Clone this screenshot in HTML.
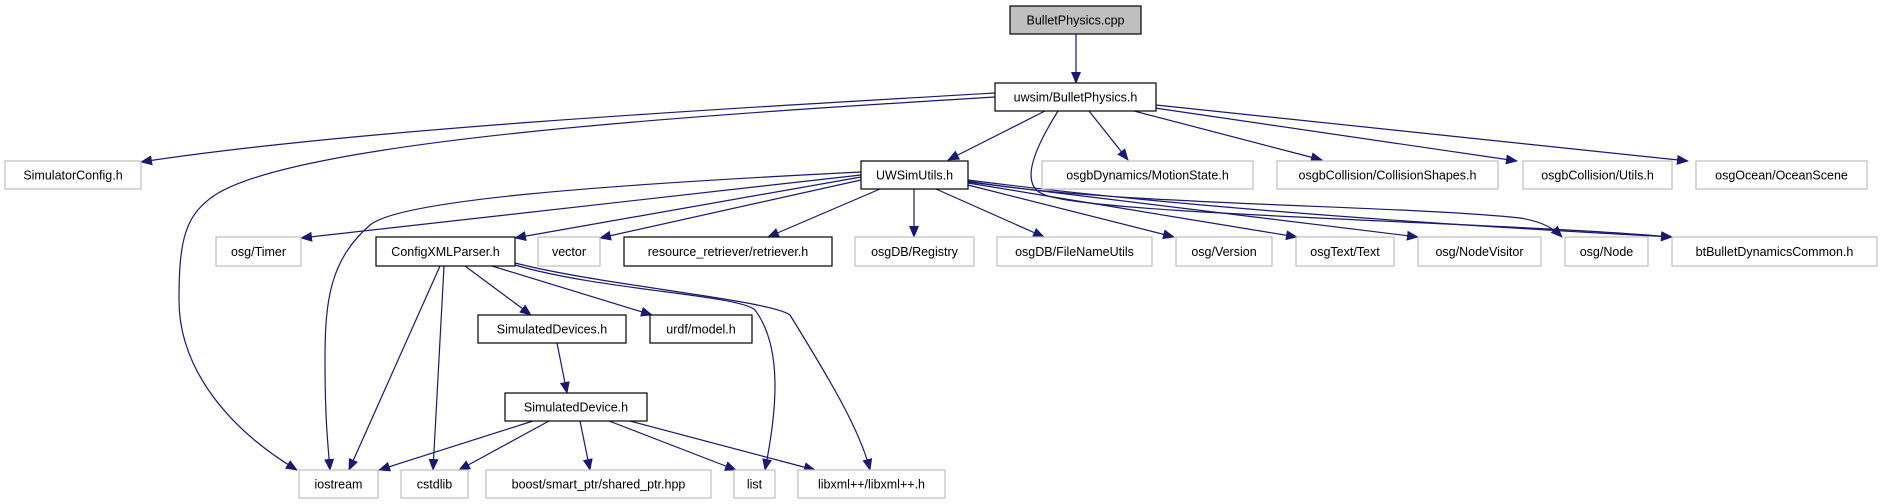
<!DOCTYPE html>
<html><head><meta charset="utf-8"><style>
body{margin:0;background:#fff;}
svg{display:block;}
text{font-family:"Liberation Sans","DejaVu Sans",sans-serif;font-size:12.5px;fill:#000;}
</style></head><body>
<svg width="1883" height="504" viewBox="0 0 1883 504" xmlns="http://www.w3.org/2000/svg">
<defs>
<marker id="a" markerWidth="12" markerHeight="10" refX="11" refY="5" orient="auto" markerUnits="userSpaceOnUse">
<path d="M0,0 L12,5 L0,10 Z" fill="#191970"/>
</marker>
</defs>
<g fill="none" stroke="#191970" stroke-width="1.2" marker-end="url(#a)">
<path d="M1076,34 L1076,83"/>
<path d="M995,93 C700,110 350,130 141,162"/>
<path d="M995,97 C700,115 300,140 215,195 C185,215 179,240 179,300 C179,370 230,430 297,470"/>
<path d="M1045,111 L948,160"/>
<path d="M1089,111 L1128,160"/>
<path d="M1134,111 L1322,160"/>
<path d="M1148,107 L1517,161"/>
<path d="M1156,105 L1688,161"/>
<path d="M1058,111 C1040,140 1015,185 1045,195 C1100,215 1500,222 1672,237"/>
<path d="M861,172 C600,185 400,200 370,225 C330,260 325,300 325,360 C325,420 328,445 330,470"/>
<path d="M861,175 L301,238"/>
<path d="M861,177 L515,238"/>
<path d="M861,180 L600,238"/>
<path d="M880,189 L768,237"/>
<path d="M914,189 L914,237"/>
<path d="M936,189 L1044,237"/>
<path d="M968,185 L1174,237"/>
<path d="M968,183 L1297,237"/>
<path d="M968,182 L1418,237"/>
<path d="M968,181 C1100,205 1400,205 1520,218 C1545,222 1555,230 1562,237"/>
<path d="M968,180 C1200,210 1500,228 1672,237"/>
<path d="M440,266 L349,470"/>
<path d="M444,266 L433,470"/>
<path d="M465,266 L531,315"/>
<path d="M492,266 L652,315"/>
<path d="M515,265 C600,290 740,295 755,310 C785,350 775,420 765,470"/>
<path d="M515,263 C600,285 770,300 790,315 C830,380 860,430 870,470"/>
<path d="M557,343 L567,393"/>
<path d="M533,421 L379,470"/>
<path d="M549,421 L459,470"/>
<path d="M580,421 L590,470"/>
<path d="M609,421 L736,470"/>
<path d="M630,421 L815,470"/>
</g>
<g stroke-width="1.2">
<rect x="1010" y="6" width="131" height="28" fill="#bfbfbf" stroke="#000"/>
<rect x="995" y="83" width="161" height="28" fill="#fff" stroke="#000"/>
<rect x="861" y="161" width="107" height="28" fill="#fff" stroke="#000"/>
<rect x="5" y="161" width="136" height="28" fill="#fff" stroke="#bfbfbf"/>
<rect x="1042" y="161" width="211" height="28" fill="#fff" stroke="#bfbfbf"/>
<rect x="1277" y="161" width="221" height="28" fill="#fff" stroke="#bfbfbf"/>
<rect x="1523" y="161" width="149" height="28" fill="#fff" stroke="#bfbfbf"/>
<rect x="1696" y="161" width="171" height="28" fill="#fff" stroke="#bfbfbf"/>
<rect x="216" y="237" width="85" height="29" fill="#fff" stroke="#bfbfbf"/>
<rect x="376" y="237" width="139" height="29" fill="#fff" stroke="#000"/>
<rect x="538" y="237" width="62" height="29" fill="#fff" stroke="#bfbfbf"/>
<rect x="624" y="237" width="208" height="29" fill="#fff" stroke="#000"/>
<rect x="855" y="237" width="119" height="29" fill="#fff" stroke="#bfbfbf"/>
<rect x="997" y="237" width="155" height="29" fill="#fff" stroke="#bfbfbf"/>
<rect x="1176" y="237" width="96" height="29" fill="#fff" stroke="#bfbfbf"/>
<rect x="1296" y="237" width="98" height="29" fill="#fff" stroke="#bfbfbf"/>
<rect x="1418" y="237" width="123" height="29" fill="#fff" stroke="#bfbfbf"/>
<rect x="1565" y="237" width="83" height="29" fill="#fff" stroke="#bfbfbf"/>
<rect x="1672" y="237" width="205" height="29" fill="#fff" stroke="#bfbfbf"/>
<rect x="478" y="315" width="148" height="28" fill="#fff" stroke="#000"/>
<rect x="650" y="315" width="102" height="28" fill="#fff" stroke="#000"/>
<rect x="505" y="393" width="142" height="28" fill="#fff" stroke="#000"/>
<rect x="299" y="470" width="79" height="28" fill="#fff" stroke="#bfbfbf"/>
<rect x="401" y="470" width="67" height="28" fill="#fff" stroke="#bfbfbf"/>
<rect x="486" y="470" width="225" height="28" fill="#fff" stroke="#bfbfbf"/>
<rect x="734" y="470" width="41" height="28" fill="#fff" stroke="#bfbfbf"/>
<rect x="798" y="470" width="147" height="28" fill="#fff" stroke="#bfbfbf"/>
</g>
<g text-anchor="middle">
<text x="1075.5" y="24.5">BulletPhysics.cpp</text>
<text x="1075.5" y="101.5">uwsim/BulletPhysics.h</text>
<text x="914.5" y="179.5">UWSimUtils.h</text>
<text x="73" y="179.5">SimulatorConfig.h</text>
<text x="1147.5" y="179.5">osgbDynamics/MotionState.h</text>
<text x="1387.5" y="179.5">osgbCollision/CollisionShapes.h</text>
<text x="1597.5" y="179.5">osgbCollision/Utils.h</text>
<text x="1781.5" y="179.5">osgOcean/OceanScene</text>
<text x="258.5" y="256">osg/Timer</text>
<text x="445.5" y="256">ConfigXMLParser.h</text>
<text x="569" y="256">vector</text>
<text x="728" y="256">resource_retriever/retriever.h</text>
<text x="914.5" y="256">osgDB/Registry</text>
<text x="1074.5" y="256">osgDB/FileNameUtils</text>
<text x="1224" y="256">osg/Version</text>
<text x="1345" y="256">osgText/Text</text>
<text x="1479.5" y="256">osg/NodeVisitor</text>
<text x="1606.5" y="256">osg/Node</text>
<text x="1774.5" y="256">btBulletDynamicsCommon.h</text>
<text x="552" y="333.5">SimulatedDevices.h</text>
<text x="701" y="333.5">urdf/model.h</text>
<text x="576" y="411.5">SimulatedDevice.h</text>
<text x="338.5" y="488.5">iostream</text>
<text x="434.5" y="488.5">cstdlib</text>
<text x="598.5" y="488.5">boost/smart_ptr/shared_ptr.hpp</text>
<text x="754.5" y="488.5">list</text>
<text x="871.5" y="488.5">libxml++/libxml++.h</text>
</g>
</svg>
</body></html>
